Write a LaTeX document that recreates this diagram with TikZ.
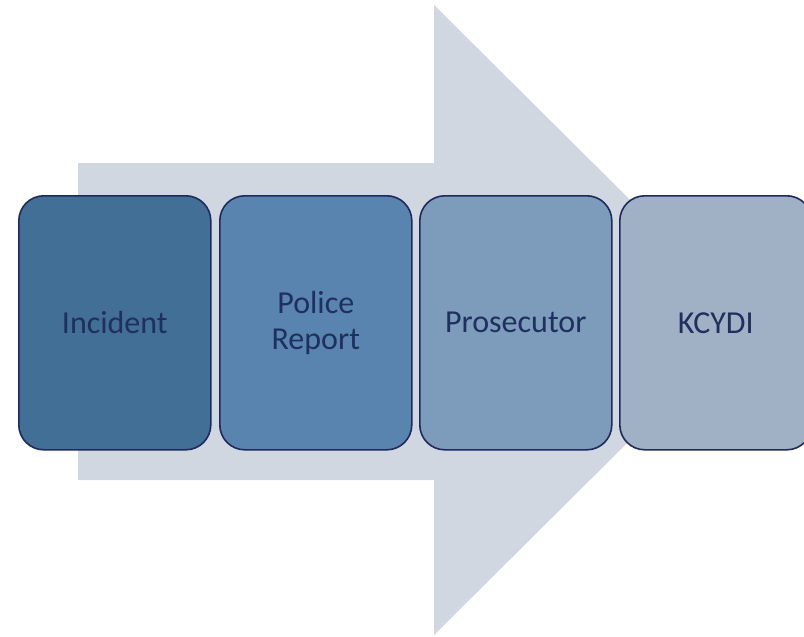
\documentclass[tikz,border=0pt]{standalone}
\usepackage{fontspec}
\setmainfont{Carlito}
\definecolor{arrowfill}{HTML}{D0D7E1}
\definecolor{edge}{HTML}{1F2A5C}
\definecolor{txt}{HTML}{1F2F5E}
\definecolor{cA}{HTML}{426F96}
\definecolor{cB}{HTML}{5A84B0}
\definecolor{cC}{HTML}{7D9BBB}
\definecolor{cD}{HTML}{A0B1C6}
\begin{document}
\begin{tikzpicture}[x=1pt,y=-1pt,
  stage/.style={draw=edge, line width=1.6pt, rounded corners=25pt,
    minimum width=192pt, minimum height=254pt, inner sep=0pt,
    text=txt, font=\fontsize{32}{36}\selectfont, align=center, anchor=north west}]
\useasboundingbox (0,0) rectangle (804,637);
\fill[arrowfill] (78,163) -- (434,163) -- (434,5) -- (751,320) -- (434,635) -- (434,480) -- (78,480) -- cycle;
\node[stage, fill=cA] (incident) at (18,195) {Incident};
\node[stage, fill=cB] (police) at (219,195) {Police\\Report};
\node[stage, fill=cC] (prosecutor) at (419,195) {Prosecutor};
\node[stage, fill=cD] (kcydi) at (619,195) {KCYDI};
\end{tikzpicture}
\end{document}
